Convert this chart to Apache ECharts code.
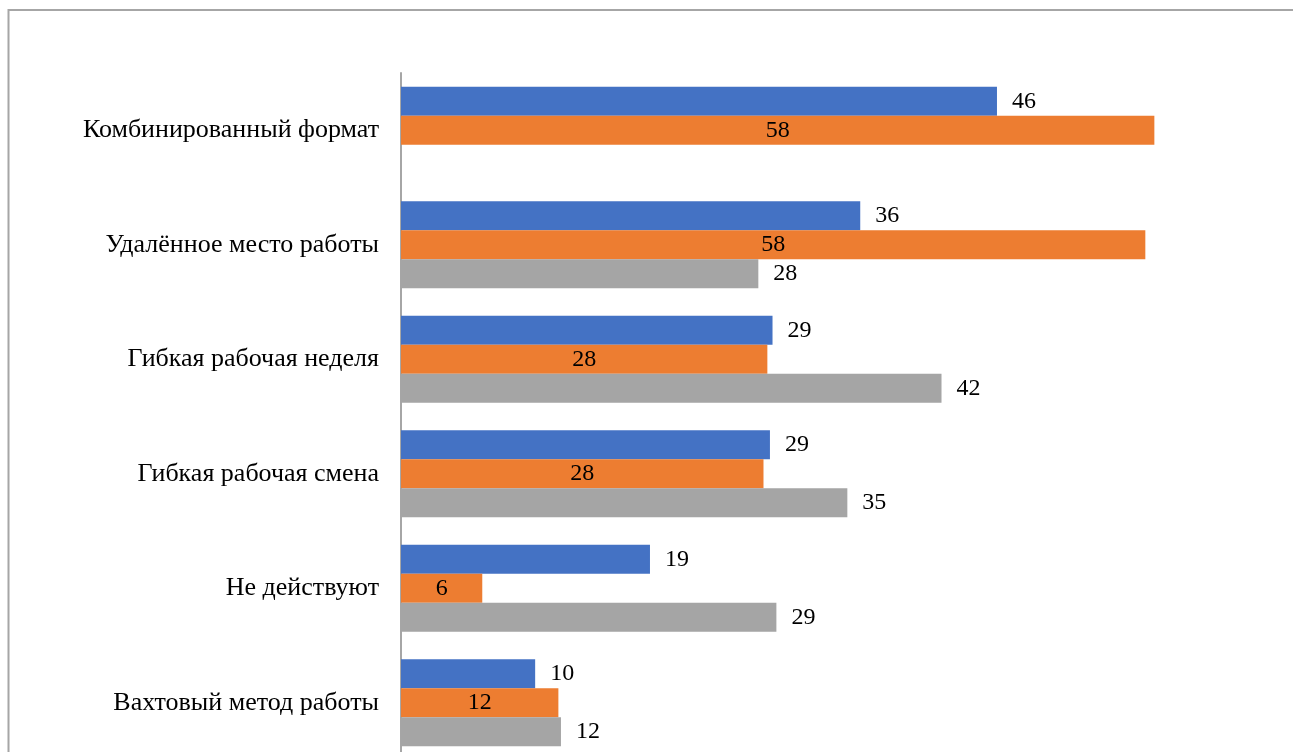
<!DOCTYPE html>
<html>
<head>
<meta charset="utf-8">
<script src="https://cdn.jsdelivr.net/npm/echarts@6/dist/echarts.min.js"></script>
<style>
html, body { margin: 0; padding: 0; background: #fff; overflow: hidden; }
#chart { width: 1293px; height: 760px; }
</style>
</head>
<body>
<div id="chart"></div>
<script>
// категории сверху вниз
const categories = [
    'Комбинированный формат',
    'Удалённое место работы',
    'Гибкая рабочая неделя',
    'Гибкая рабочая смена',
    'Не действуют',
    'Вахтовый метод работы'
]
// значения (подписи округлены)
const blueValues = [46.2, 35.6, 28.8, 28.6, 19.3, 10.4]
const orangeValues = [58.4, 57.7, 28.4, 28.1, 6.3, 12.2]
const greyValues = [null, 27.7, 41.9, 34.6, 29.1, 12.4]

const colors = ['#4472C4', '#ED7D31', '#A5A5A5']
const font = '"Liberation Serif", "DejaVu Serif", serif'

const chart = echarts.init(document.getElementById('chart'))

const labelOutside = {
    show: true,
    position: 'right',
    distance: 15,
    color: '#000',
    fontFamily: font,
    fontSize: 24,
    formatter: p => Math.round(p.value)
}

const option = {
    animation: false,
    graphic: [
        {
            type: 'rect',
            shape: { x: 8.5, y: 10, width: 1400, height: 900 },
            style: { fill: 'none', stroke: '#a6a6a6', lineWidth: 2 }
        }
    ],
    grid: { left: 401, right: 118, top: 73, bottom: 0, containLabel: false },
    xAxis: {
        type: 'value',
        min: 0,
        max: 60,
        show: false
    },
    yAxis: {
        type: 'category',
        inverse: true,
        data: categories,
        axisLine: { lineStyle: { color: '#a6a6a6', width: 2 } },
        axisTick: { show: false },
        axisLabel: {
            color: '#000',
            fontFamily: font,
            fontSize: 26,
            margin: 22
        }
    },
    series: [
        {
            type: 'bar',
            data: blueValues,
            barWidth: 29,
            barGap: '0%',
            itemStyle: { color: colors[0] },
            label: labelOutside
        },
        {
            type: 'bar',
            data: orangeValues,
            barWidth: 29,
            barGap: '0%',
            itemStyle: { color: colors[1] },
            label: {
                show: true,
                position: 'inside',
                color: '#000',
                fontFamily: font,
                fontSize: 24,
                formatter: p => Math.round(p.value)
            }
        },
        {
            type: 'bar',
            data: greyValues,
            barWidth: 29,
            barGap: '0%',
            itemStyle: { color: colors[2] },
            label: labelOutside
        }
    ]
}

chart.setOption(option)
</script>
</body>
</html>
